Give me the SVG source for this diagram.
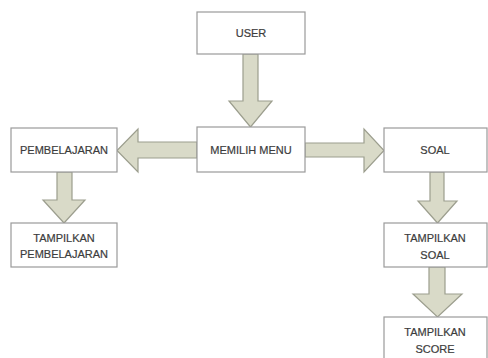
<svg xmlns="http://www.w3.org/2000/svg" width="488" height="358" viewBox="0 0 488 358">
<style>
.box{fill:#ffffff;stroke:#9a9a9a;stroke-width:1.2}
.arr{fill:#d9dac8;stroke:#9c9e8e;stroke-width:1.2;stroke-linejoin:miter}
text{font-family:"Liberation Sans",Arial,sans-serif;font-size:11px;fill:#3c3c3c;stroke:#3c3c3c;stroke-width:0.2;text-anchor:middle;dominant-baseline:central}
</style>
<rect width="488" height="358" fill="#ffffff"/>
<g id="connectors">
<polygon class="arr" points="243,54 258,54 258,101 272,101 250.5,127 229,101 243,101"/>
<polygon class="arr" points="197,142 138,142 138,129 117,150.5 138,172 138,158 197,158"/>
<polygon class="arr" points="305,143 364,143 364,129 384,150.5 364,172 364,157 305,157"/>
<polygon class="arr" points="57,172 72,172 72,200 85,200 64,223 43,200 57,200"/>
<polygon class="arr" points="430,172 444,172 444,201 457,201 437.5,223 418,201 430,201"/>
<polygon class="arr" points="429,267 445,267 445,294 462,294 437.5,317 413,294 429,294"/>
</g>
<g id="user"><rect class="box" x="197" y="12" width="108" height="42"/><text x="251" y="33">USER</text></g>
<g id="memilih-menu"><rect class="box" x="197" y="127" width="108" height="45"/><text x="251" y="149.5">MEMILIH MENU</text></g>
<g id="pembelajaran"><rect class="box" x="11" y="128" width="106" height="44"/><text x="64" y="150">PEMBELAJARAN</text></g>
<g id="tampilkan-pembelajaran"><rect class="box" x="11" y="223" width="106" height="44"/><text x="64" y="237.5">TAMPILKAN</text><text x="64" y="254">PEMBELAJARAN</text></g>
<g id="soal"><rect class="box" x="384" y="128" width="103" height="44"/><text x="435" y="150">SOAL</text></g>
<g id="tampilkan-soal"><rect class="box" x="384" y="223" width="103" height="44"/><text x="435" y="237.5">TAMPILKAN</text><text x="435" y="254.5">SOAL</text></g>
<g id="tampilkan-score"><rect class="box" x="384" y="317" width="103" height="46"/><text x="435" y="332">TAMPILKAN</text><text x="435" y="348.5">SCORE</text></g>
</svg>
